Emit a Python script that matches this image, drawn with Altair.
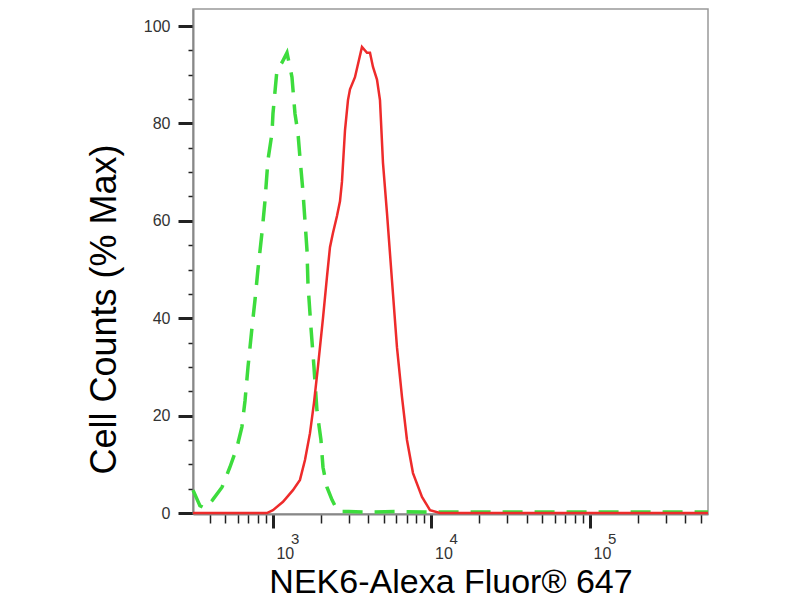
import altair as alt
import pandas as pd

# isotype control (green, dashed)
green_x = [313, 346, 372, 412, 477, 535, 593, 637, 666, 696, 737, 770, 804, 852,
           890, 930, 986, 1000, 1060, 1140, 1226, 1318, 1337, 1377, 1438, 1480,
           1546, 1639, 1663, 1737, 1814, 1895, 2008, 2068, 2191, 2357, 2571,
           3000, 4000, 6000, 9000, 12000, 555000]
green_y = [4.7, 1.5, 1.0, 2.5, 5.3, 9.4, 13.5, 17.7, 23, 30, 38, 43.7, 50, 57.5,
           64, 72.5, 78, 82, 91, 92.5, 94.5, 89.5, 87, 82, 78, 73,
           66, 54, 47, 38, 30, 21, 15, 9.4, 5.3, 2.7, 0.3,
           0.3, 0.2, 0.3, 0.2, 0.2, 0.2]

# NEK6 stained sample (red, solid)
red_x = [313, 916, 1000, 1157, 1337, 1480, 1592, 1712, 1814, 1922, 2068, 2191,
         2289, 2390, 2534, 2647, 2724, 2847, 2973, 3061, 3291, 3643, 3919, 4093,
         4275, 4531, 4732, 4943, 5239, 5632, 6058, 6516, 7004, 7643, 8711, 9783,
         11314, 555000]
red_y = [0, 0, 0.6, 2.3, 4.7, 6.8, 10.9, 16.4, 22.6, 30, 40, 48.5,
         54.6, 57.5, 61, 64, 68, 78.6, 84.8, 87, 89.5, 95.7, 94.5, 94.5,
         91.6, 89, 84.8, 71.9, 61.6, 47.8, 34, 23.8, 15, 8.2, 3.3, 0.6,
         0, 0]

x_ticks = [400, 500, 600, 700, 800, 900,
           1000, 2000, 3000, 4000, 5000, 6000, 7000, 8000, 9000,
           10000, 20000, 30000, 40000, 50000, 60000, 70000, 80000, 90000,
           100000, 200000, 300000, 400000, 500000]
y_ticks = list(range(0, 101, 5))

# decade labels: "10" on the axis, exponent drawn as a raised text
decades = [1000, 10000, 100000]
exponents = ["3", "4", "5"]

green = pd.DataFrame({"x": green_x, "y": green_y, "order": range(len(green_x))})
red = pd.DataFrame({"x": red_x, "y": red_y, "order": range(len(red_x))})
exps = pd.DataFrame({"x": decades, "e": exponents})

major_x = "abs(log(datum.value) / LN10 - round(log(datum.value) / LN10)) < 1e-6"
major_y = "datum.value % 20 === 0"

x_scale = alt.Scale(type="log", domain=[313, 555000], nice=False)

x_enc = alt.X("x:Q", scale=x_scale,
    axis=alt.Axis(
        values=x_ticks,
        labelExpr="datum.value == 1000 || datum.value == 10000 || datum.value == 100000 ? '10' : ''",
        labelAlign="left", labelOffset=3, labelBaseline="alphabetic",
        labelFontSize=16,
        tickSize={"condition": {"test": major_x, "value": 14}, "value": 9},
        tickWidth={"condition": {"test": major_x, "value": 3}, "value": 1.5},
        labelPadding=30,
        title="NEK6-Alexa Fluor® 647",
        titleY=78, titleBaseline="alphabetic",
    ))
y_enc = alt.Y("y:Q",
    scale=alt.Scale(domain=[-0.2, 103.5], nice=False, zero=False),
    axis=alt.Axis(
        values=y_ticks,
        labelExpr="datum.value % 20 === 0 ? datum.label : ''",
        tickSize={"condition": {"test": major_y, "value": 15}, "value": 5},
        tickWidth={"condition": {"test": major_y, "value": 3}, "value": 1.5},
        labelPadding=8,
        title="Cell Counts (% Max)",
        titleX=-70, titleY=300, titleFontSize=36,
    ))

green_line = alt.Chart(green).mark_line(
    color="#3ddc3d", strokeWidth=3.5, strokeDash=[20, 12]
).encode(x=x_enc, y=y_enc, order="order:Q")

red_line = alt.Chart(red).mark_line(
    color="#ee2b2b", strokeWidth=2.5
).encode(x=x_enc, y=y_enc, order="order:Q")

exp_text = alt.Chart(exps).mark_text(
    align="left", baseline="alphabetic", dx=18, fontSize=15,
    font="Liberation Sans", color="#333333"
).encode(x=alt.X("x:Q", scale=x_scale), y=alt.value(535), text="e:N")

chart = alt.layer(green_line, red_line, exp_text).properties(
    width=515, height=505,
    autosize=alt.AutoSizeParams(type="none"),
    padding={"left": 185, "top": 1, "right": 20, "bottom": 84},
).configure_view(
    stroke="#999999", strokeWidth=1.5
).configure_axis(
    grid=False,
    domainColor="#888888", domainWidth=2,
    tickColor="#222222",
    labelFont="Liberation Sans", labelFontSize=16, labelColor="#333333",
    titleFont="Liberation Sans", titleFontSize=34, titleFontWeight="normal",
    titleColor="#000000",
)

chart.save("out.html", embed_options={"renderer": "svg", "actions": False})
